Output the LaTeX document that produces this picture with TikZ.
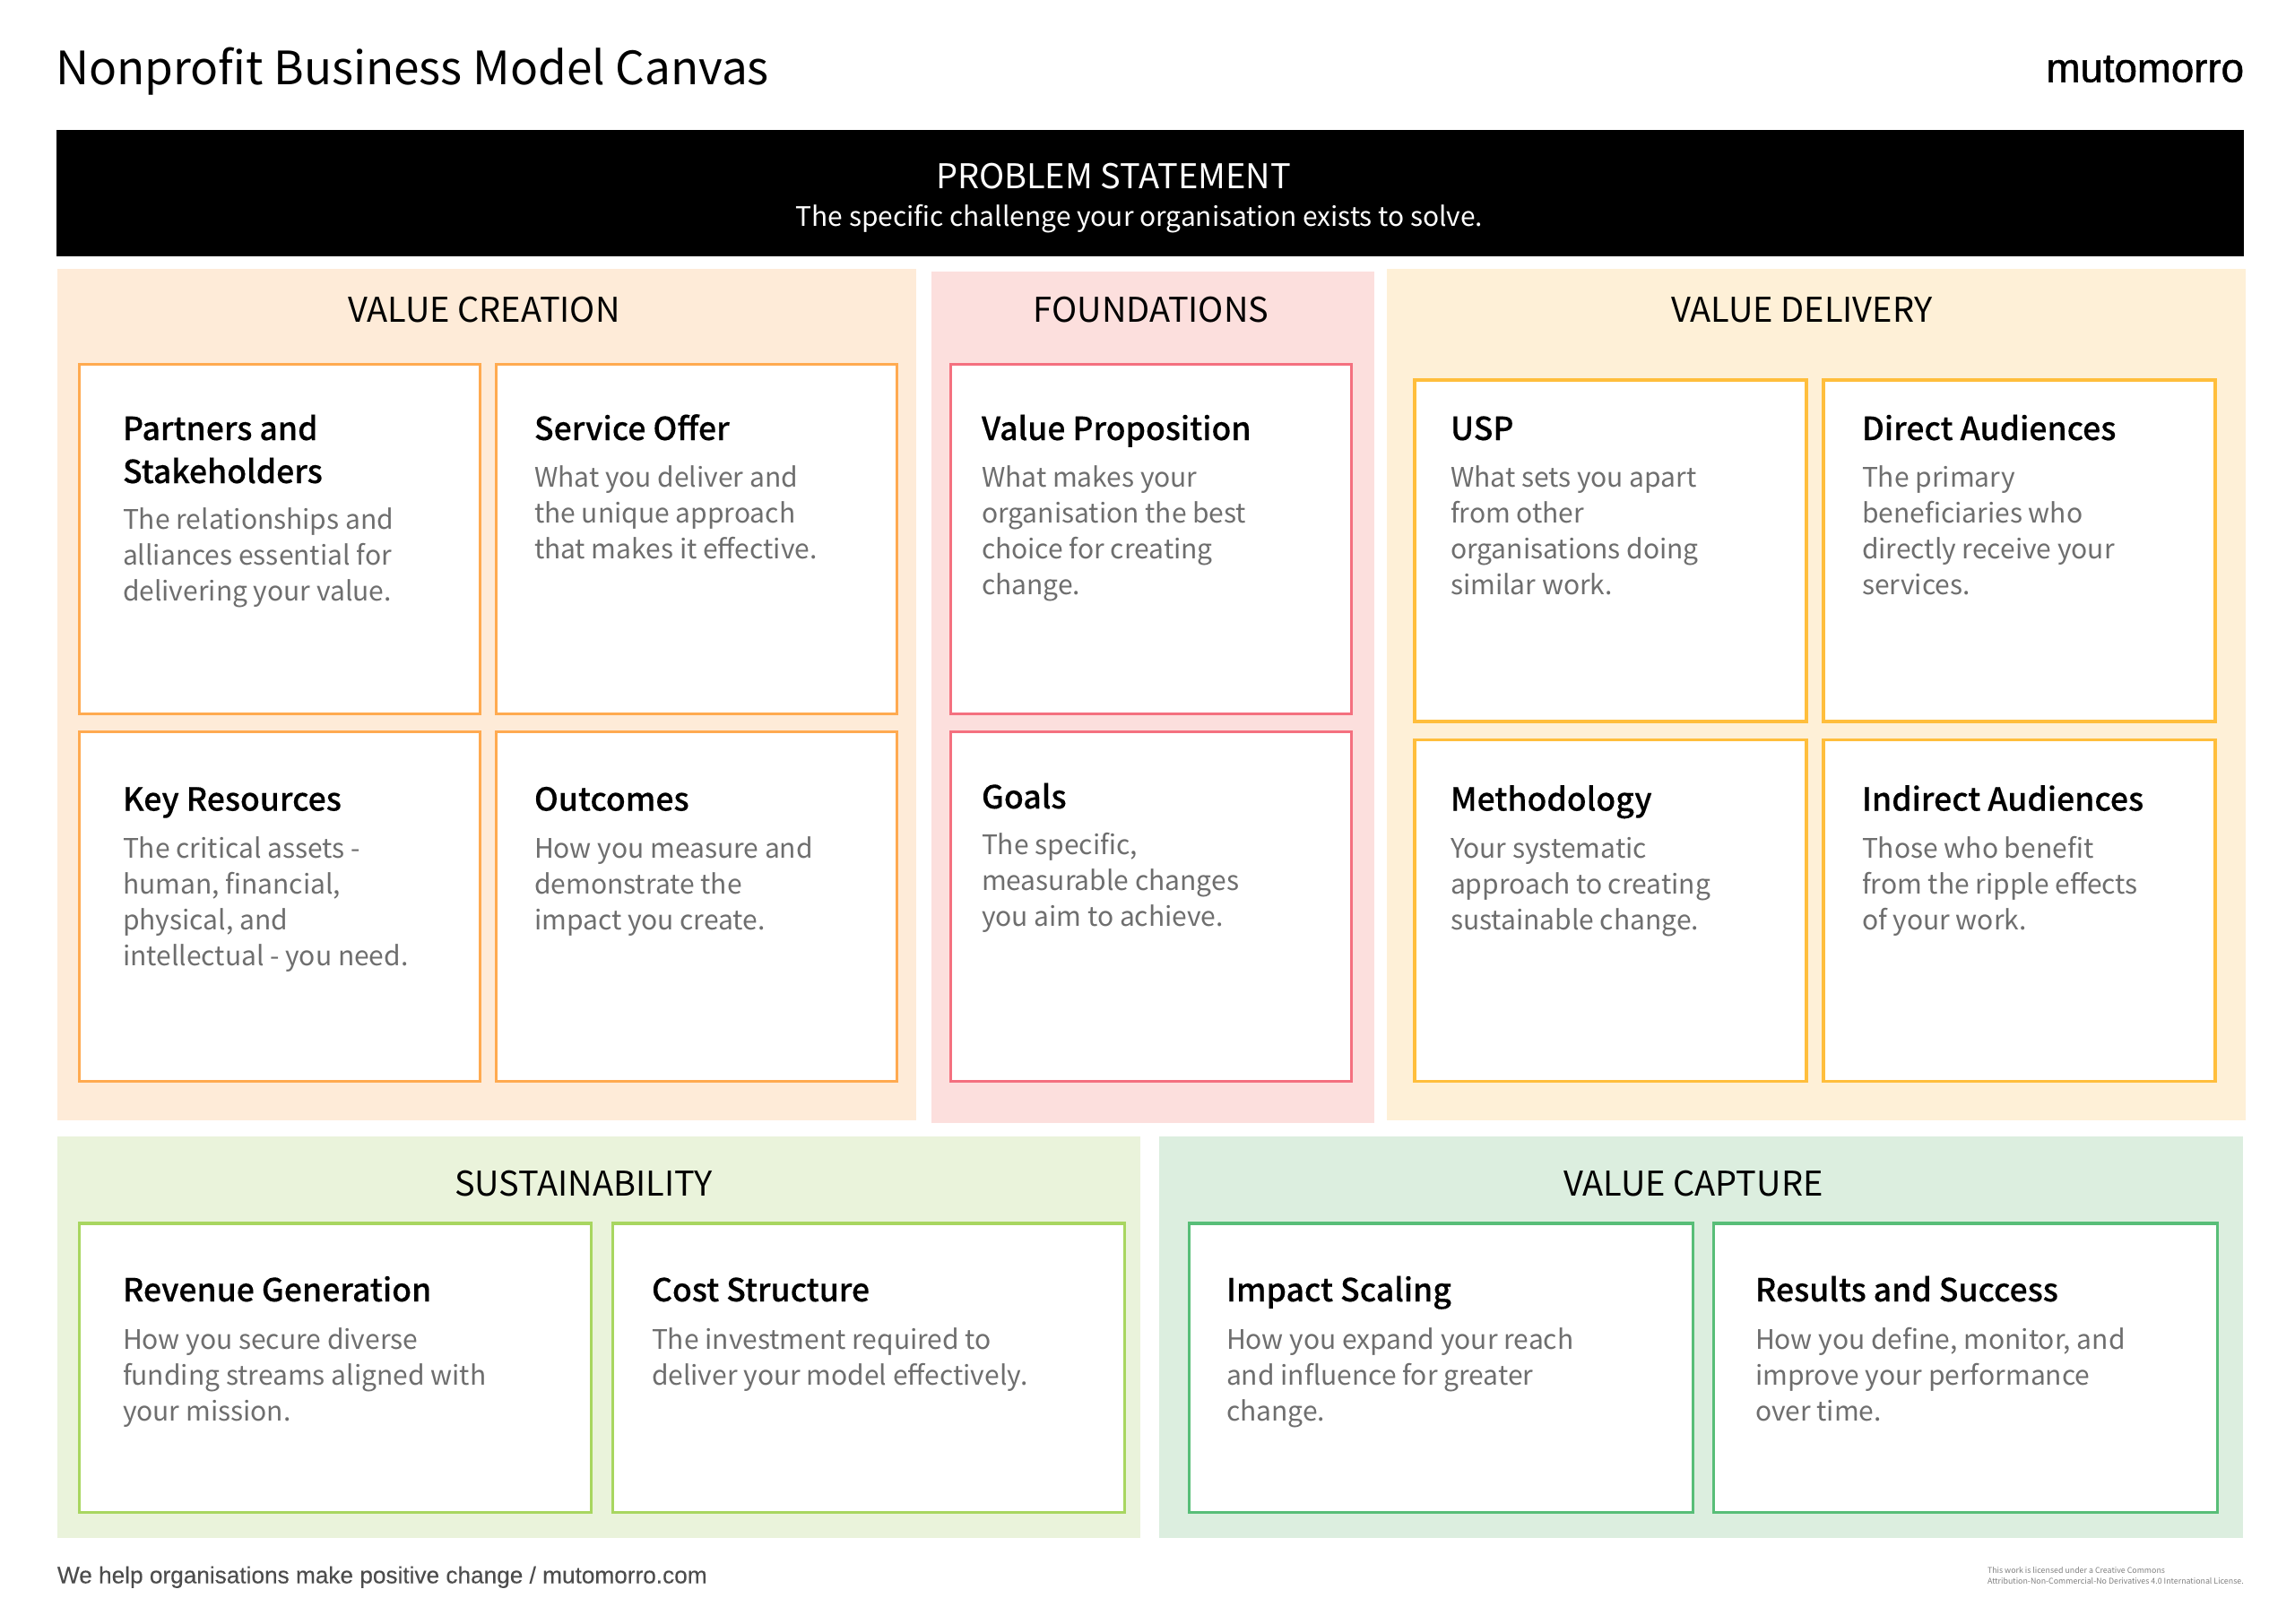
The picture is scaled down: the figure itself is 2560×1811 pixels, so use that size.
\documentclass[tikz,border=0pt]{standalone}
\usepackage{fontspec}
\setmainfont{Noto Sans CJK JP}
\newfontfamily\medf[FakeBold=0.2]{Noto Sans CJK JP Medium}
\newfontfamily\logof[FakeBold=1.1]{Liberation Sans}
\newfontfamily\footf[FakeBold=0.15]{Liberation Sans}
\definecolor{pOrange}{HTML}{FEEBD8}
\definecolor{pPink}{HTML}{FCDFDD}
\definecolor{pYellow}{HTML}{FEF0D7}
\definecolor{pLime}{HTML}{EAF3DB}
\definecolor{pGreen}{HTML}{DCEEDF}
\definecolor{bOrange}{HTML}{FFAA50}
\definecolor{bPink}{HTML}{F4707F}
\definecolor{bYellow}{HTML}{FFBE3C}
\definecolor{bLime}{HTML}{A8D660}
\definecolor{bGreen}{HTML}{58BE78}
\definecolor{bodygrey}{HTML}{6E6E6E}
\newcommand{\firstline}{\rule{0pt}{20pt}}
\tikzset{
  x=0.5pt,y=-0.5pt,
  panel/.style={draw=none,fill=#1},
  cardbox/.style={draw=#1,line width=1.8pt,fill=white},
  txt/.style={inner sep=0pt,outer sep=0pt},
  head/.style={txt,anchor=base,font=\fontsize{19pt}{24pt}\selectfont},
  ctitle/.style={txt,anchor=north west,yshift=15pt,align=left,font=\medf\fontsize{17.8pt}{24pt}\selectfont},
  cbody/.style={txt,anchor=north west,yshift=20pt,align=left,text=bodygrey,font=\fontsize{15pt}{20pt}\selectfont},
}
\newcommand{\card}[6]{% name,colour,x1,y1,x2,y2
  \path[cardbox=#2] (#3,#4) rectangle (#5,#6) node[pos=.5,txt] (#1) {};}
\newcommand{\ct}[4]{\node[ctitle] (#1t) at (#2,#3) {\rule{0pt}{15pt}#4};}
\newcommand{\cb}[4]{\node[cbody] (#1b) at (#2,#3) {\firstline #4};}
\begin{document}
\begin{tikzpicture}
\useasboundingbox[fill=white] (0,0) rectangle (2560,1811);
\node[txt,anchor=base west,font=\fontsize{25.65pt}{32pt}\selectfont] (title) at (62,94.5) {Nonprofit Business Model Canvas};
\node[txt,anchor=base east,font=\logof\fontsize{22.8pt}{26pt}\selectfont] (logo) at (2503,91.5) {mutomorro};
\path[fill=black] (63,145) rectangle (2503,286);
\node[txt,anchor=base,text=white,font=\fontsize{19pt}{24pt}\selectfont] (prob) at (1242,210.5) {PROBLEM STATEMENT};
\node[txt,anchor=base,text=white,font=\fontsize{14.95pt}{20pt}\selectfont] (probs) at (1271,252) {The specific challenge your organisation exists to solve.};
\path[panel=pOrange] (64,300) rectangle (1022,1249.5);
\path[panel=pPink] (1038.5,303) rectangle (1533,1253);
\path[panel=pYellow] (1547,300) rectangle (2505,1249.5);
\path[panel=pLime] (64,1268) rectangle (1272,1716);
\path[panel=pGreen] (1293,1268) rectangle (2502,1716);
\node[head] (hvc) at (540,359) {VALUE CREATION};
\node[head] (hf) at (1284,359) {FOUNDATIONS};
\node[head] (hvd) at (2010,359) {VALUE DELIVERY};
\node[head] (hs) at (651,1334.5) {SUSTAINABILITY};
\node[head] (hc) at (1889,1334.5) {VALUE CAPTURE};
\card{c1}{bOrange}{88.5}{406.5}{535.5}{796.5}
\card{c2}{bOrange}{553.5}{406.5}{1000.5}{796.5}
\card{c3}{bOrange}{88.5}{816.5}{535.5}{1206.5}
\card{c4}{bOrange}{553.5}{816.5}{1000.5}{1206.5}
\card{c5}{bPink}{1060.5}{406.5}{1507.5}{796.5}
\card{c6}{bPink}{1060.5}{816.5}{1507.5}{1206.5}
\card{c7}{bYellow}{1578}{424}{2015}{805}
\card{c8}{bYellow}{2034}{424}{2471}{805}
\card{c9}{bYellow}{1578}{825.5}{2015}{1206.5}
\card{c10}{bYellow}{2034}{825.5}{2471}{1206.5}
\card{c11}{bLime}{88.5}{1365}{659.5}{1687.5}
\card{c12}{bLime}{683.5}{1365}{1254.5}{1687.5}
\card{c13}{bGreen}{1326.5}{1365}{1888.5}{1687.5}
\card{c14}{bGreen}{1911.5}{1365}{2473.5}{1687.5}
\ct{c1}{137}{491}{Partners and\\Stakeholders}
\cb{c1}{137}{590}{The relationships and\\alliances essential for\\delivering your value.}
\ct{c2}{596}{491}{Service Offer}
\cb{c2}{596}{543}{What you deliver and\\the unique approach\\that makes it effective.}
\ct{c3}{137}{904.5}{Key Resources}
\cb{c3}{137}{957}{The critical assets -\\human, financial,\\physical, and\\intellectual - you need.}
\ct{c4}{596}{904.5}{Outcomes}
\cb{c4}{596}{957}{How you measure and\\demonstrate the\\impact you create.}
\ct{c5}{1095}{491}{Value Proposition}
\cb{c5}{1095}{543}{What makes your\\organisation the best\\choice for creating\\change.}
\ct{c6}{1095}{902}{Goals}
\cb{c6}{1095}{953.5}{The specific,\\measurable changes\\you aim to achieve.}
\ct{c7}{1618}{491}{USP}
\cb{c7}{1618}{543}{What sets you apart\\from other\\organisations doing\\similar work.}
\ct{c8}{2077}{491}{Direct Audiences}
\cb{c8}{2077}{543}{The primary\\beneficiaries who\\directly receive your\\services.}
\ct{c9}{1618}{904.5}{Methodology}
\cb{c9}{1618}{957}{Your systematic\\approach to creating\\sustainable change.}
\ct{c10}{2077}{904.5}{Indirect Audiences}
\cb{c10}{2077}{957}{Those who benefit\\from the ripple effects\\of your work.}
\ct{c11}{137}{1452}{Revenue Generation}
\cb{c11}{137}{1505}{How you secure diverse\\funding streams aligned with\\your mission.}
\ct{c12}{727}{1452}{Cost Structure}
\cb{c12}{727}{1505}{The investment required to\\deliver your model effectively.}
\ct{c13}{1368}{1452}{Impact Scaling}
\cb{c13}{1368}{1505}{How you expand your reach\\and influence for greater\\change.}
\ct{c14}{1958}{1452}{Results and Success}
\cb{c14}{1958}{1505}{How you define, monitor, and\\improve your performance\\over time.}
\node[txt,anchor=base west,text=black!70,font=\footf\fontsize{13.1pt}{14pt}\selectfont] (foot) at (64,1766.5) {We help organisations make positive change / mutomorro.com};
\node[txt,anchor=north west,yshift=4pt,align=left,text=black!50,font=\fontsize{4.42pt}{6pt}\selectfont] (lic) at (2217,1755) {\rule{0pt}{4pt}This work is licensed under a Creative Commons\\Attribution-Non-Commercial-No Derivatives 4.0 International License.};
\end{tikzpicture}
\end{document}
